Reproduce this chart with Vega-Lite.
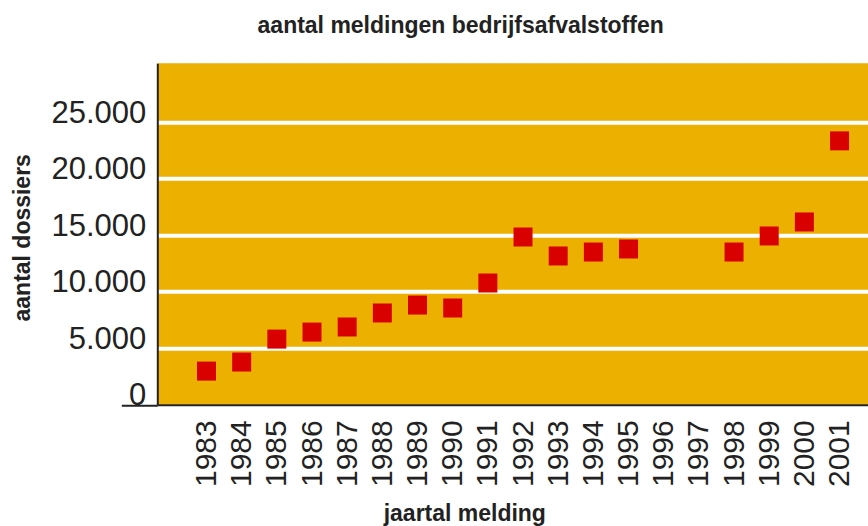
{
  "$schema": "https://vega.github.io/schema/vega-lite/v6.json",
  "autosize": {"type": "none"},
  "padding": {"left": 157.3, "top": 63.3, "right": 0, "bottom": 121},
  "width": 710.7,
  "height": 341.5,
  "background": "#ffffff",
  "title": {
    "text": "aantal meldingen bedrijfsafvalstoffen",
    "font": "Liberation Sans",
    "fontSize": 23,
    "fontWeight": "bold",
    "color": "#222222",
    "anchor": "middle",
    "frame": "group",
    "baseline": "alphabetic",
    "offset": 7,
    "dx": -52
  },
  "data": {
    "values": [
      {"jaar": 1983, "dossiers": 2980},
      {"jaar": 1984, "dossiers": 3780},
      {"jaar": 1985, "dossiers": 5810},
      {"jaar": 1986, "dossiers": 6430},
      {"jaar": 1987, "dossiers": 6880},
      {"jaar": 1988, "dossiers": 8120},
      {"jaar": 1989, "dossiers": 8820},
      {"jaar": 1990, "dossiers": 8560},
      {"jaar": 1991, "dossiers": 10770},
      {"jaar": 1992, "dossiers": 14840},
      {"jaar": 1993, "dossiers": 13160},
      {"jaar": 1994, "dossiers": 13510},
      {"jaar": 1995, "dossiers": 13780},
      {"jaar": 1998, "dossiers": 13510},
      {"jaar": 1999, "dossiers": 14930},
      {"jaar": 2000, "dossiers": 16170},
      {"jaar": 2001, "dossiers": 23340}
    ]
  },
  "mark": {"type": "square", "size": 361, "color": "#D90000", "opacity": 1, "filled": true, "strokeWidth": 0},
  "encoding": {
    "x": {
      "field": "jaar",
      "type": "quantitative",
      "scale": {"domain": [1981.601, 2001.809], "nice": false, "zero": false},
      "axis": {
        "title": "jaartal melding",
        "values": [1983,1984,1985,1986,1987,1988,1989,1990,1991,1992,1993,1994,1995,1996,1997,1998,1999,2000,2001],
        "format": "d",
        "labelAngle": -90,
        "labelFontSize": 30,
        "labelFont": "Liberation Sans",
        "labelColor": "#222222",
        "labelPadding": 15,
        "labelOverlap": false,
        "labelFlush": false,
        "labelBound": false,
        "ticks": false,
        "grid": false,
        "domainColor": "#222222",
        "domainWidth": 2,
        "titleFont": "Liberation Sans",
        "titleFontSize": 23,
        "titleFontWeight": "bold",
        "titleColor": "#222222",
        "titleX": 307,
        "titleY": 116,
        "titleAlign": "center",
        "titleBaseline": "alphabetic"
      }
    },
    "y": {
      "field": "dossiers",
      "type": "quantitative",
      "scale": {"domain": [0, 30200], "nice": false},
      "axis": {
        "title": "aantal dossiers",
        "values": [0, 5000, 10000, 15000, 20000, 25000],
        "labelExpr": "replace(format(datum.value, ','), ',', '.')",
        "labelFontSize": 31,
        "labelFont": "Liberation Sans",
        "labelColor": "#222222",
        "labelBaseline": "alphabetic",
        "labelPadding": -24.4,
        "labelOverlap": false,
        "labelFlush": false,
        "labelBound": false,
        "ticks": true,
        "tickSize": 36,
        "tickWidth": 2,
        "tickColor": {"condition": {"test": "datum.value === 0", "value": "#222222"}, "value": "transparent"},
        "grid": true,
        "gridColor": {"condition": {"test": "datum.value === 0", "value": "transparent"}, "value": "#ffffff"},
        "gridWidth": 4,
        "gridOpacity": 1,
        "domainColor": "#222222",
        "domainWidth": 2,
        "titleFont": "Liberation Sans",
        "titleFontSize": 23,
        "titleFontWeight": "bold",
        "titleColor": "#222222",
        "titleX": -135,
        "titleY": 174,
        "titleAngle": -90,
        "titleAlign": "center",
        "titleBaseline": "middle"
      }
    }
  },
  "config": {
    "view": {"fill": "#EBB000", "stroke": null}
  }
}
